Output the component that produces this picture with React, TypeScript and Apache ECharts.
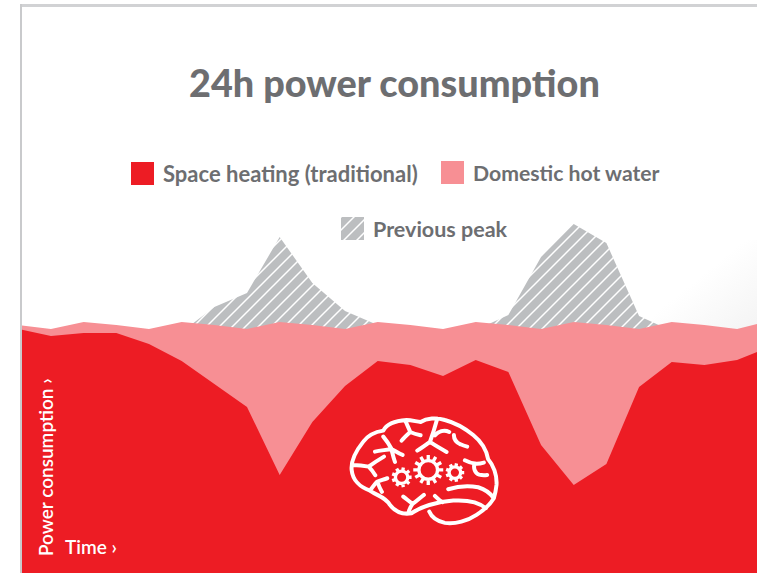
import React, { useEffect, useRef } from "react";
import * as echarts from "echarts";

const TITLE = "24h power consumption";
const HEATING = "Space heating (traditional)";
const WATER = "Domestic hot water";
const PEAK = "Previous peak";

const hours = [0, 1, 2, 3, 4, 5, 6, 7, 8, 9, 10, 11, 12, 13, 14, 15, 16, 17, 18, 19, 20, 21, 22, 23];
const heatingValues = [244, 237, 240, 240, 229, 212, 189, 166, 98, 151, 187, 212, 208, 197, 213, 201, 128, 88, 109, 186, 211, 208, 213, 226];
const waterValues = [4, 7, 11, 8, 15, 39, 59, 78, 153, 97, 57, 39, 40, 47, 38, 47, 116, 163, 139, 58, 40, 40, 31, 26];
const peakValues = [null, null, null, null, null, 241, 266, 280, 336, 290, 262, 248, null, null, 243, 258, 316, 349, 330, 257, 242, null, null, null];
const totalValues = heatingValues.map((v, i) => v + waterValues[i]);

const RED = "#ed1c24";
const PINK = "#f78f94";
const HATCH = "#bcbec0";
const TEXT = "#6d6e71";
const FONT = "Lato";

function gear(cx: number, cy: number, r: number, teeth: number): string {
  const ring = r * 0.62;
  let d = `M${cx - ring} ${cy}A${ring} ${ring} 0 1 1 ${cx + ring} ${cy}A${ring} ${ring} 0 1 1 ${cx - ring} ${cy}Z`;
  for (let i = 0; i < teeth; i++) {
    const a = (i / teeth) * Math.PI * 2;
    d += `M${cx + Math.cos(a) * ring} ${cy + Math.sin(a) * ring}L${cx + Math.cos(a) * r} ${cy + Math.sin(a) * r}`;
  }
  return d;
}

const BRAIN =
  "M215 340C185 345 165 335 150 315C135 290 115 290 90 272C60 262 38 240 35 210C32 180 50 150 70 125C85 105 110 95 130 92C140 72 170 62 200 60C215 60 230 65 242 66C260 55 290 52 315 60C345 68 375 85 400 105C425 125 440 150 445 178C460 195 472 225 470 255C468 275 465 285 462 295" +
  "M462 295C450 315 430 332 410 345C385 362 345 374 315 369C290 364 275 352 268 335" +
  "M215 340C240 322 290 305 340 302C375 300 415 305 438 325" +
  "M325 268C350 260 385 256 415 262C435 268 450 278 462 295" +
  "M285 288C292 295 298 302 308 307" +
  "M190 290C200 298 208 304 218 312C212 320 208 328 206 337M218 312C230 304 240 294 252 285" +
  "M90 272C98 262 104 252 112 245C122 242 132 238 142 235M112 245C116 256 120 266 126 276" +
  "M38 195C55 195 72 197 86 200C94 208 100 216 106 226M86 200C100 190 115 180 132 170" +
  "M105 155C120 152 138 150 155 147C165 152 175 160 188 165M155 147C148 134 140 122 130 110M155 150C158 162 160 172 165 186" +
  "M185 122C193 112 202 104 211 96C207 86 202 76 197 64M211 96C220 100 230 103 242 106" +
  "M232 152C246 144 258 135 270 126C278 104 285 82 292 56M270 126C285 136 302 146 320 156M285 106C295 95 312 88 328 96" +
  "M342 105C342 118 350 128 362 133C368 136 374 138 382 140" +
  "M375 181C385 186 395 190 405 191C415 192 425 190 432 188M404 191C400 204 405 220 418 224C426 226 434 226 442 225";

const GEARS = gear(265, 210, 45, 12) + gear(185, 232, 30, 9) + gear(345, 218, 28, 9);

function hatchTile(): HTMLCanvasElement {
  const size = 13;
  const c = document.createElement("canvas");
  c.width = size;
  c.height = size;
  const g = c.getContext("2d")!;
  g.fillStyle = HATCH;
  g.fillRect(0, 0, size, size);
  g.strokeStyle = "#ffffff";
  g.lineWidth = 1.5;
  g.beginPath();
  g.moveTo(-2, size + 2);
  g.lineTo(size + 2, -2);
  g.moveTo(-2, 2);
  g.lineTo(2, -2);
  g.moveTo(size - 2, size + 2);
  g.lineTo(size + 2, size - 2);
  g.stroke();
  return c;
}

const pairs = (values: (number | null)[]) => hours.map((h, i) => [h, values[i]]);

export default function App() {
  const ref = useRef<HTMLDivElement>(null);
  useEffect(() => {
    if (!ref.current) return;
    echarts.graphic.registerShape("brainIcon", echarts.graphic.extendPath(BRAIN, {}));
    echarts.graphic.registerShape("gearsIcon", echarts.graphic.extendPath(GEARS, {}));
    const chart = echarts.init(ref.current, undefined, { renderer: "svg" });
    const pattern: any = { image: hatchTile(), repeat: "repeat" };
    const legendText = { color: TEXT, fontFamily: FONT, fontSize: 21, fontWeight: 700, padding: [0, 0, 0, 4] };
    const legendBase = { orient: "horizontal", itemWidth: 23, itemHeight: 23, selectedMode: false, padding: 0 };
    chart.setOption({
      animation: false,
      backgroundColor: "#ffffff",
      title: {
        text: TITLE,
        left: 189,
        top: 63,
        padding: 0,
        textStyle: { color: TEXT, fontFamily: FONT, fontSize: 37.8, fontWeight: 900 },
      },
      legend: [
        { ...legendBase, left: 131, top: 162, textStyle: { ...legendText, fontSize: 22 }, data: [{ name: HEATING, icon: "rect", itemStyle: { color: RED } }] },
        { ...legendBase, left: 441, top: 161, textStyle: { ...legendText, fontSize: 21.2 }, data: [{ name: WATER, icon: "rect", itemStyle: { color: PINK } }] },
        { ...legendBase, left: 341, top: 217, textStyle: { ...legendText, fontSize: 21.5 }, data: [{ name: PEAK, icon: "rect", itemStyle: { color: pattern } }] },
      ],
      grid: { left: 22, right: 0, top: 0, bottom: 0 },
      xAxis: { type: "value", min: 0.113, max: 22.61, show: false },
      yAxis: { type: "value", min: 0, max: 573, show: false },
      series: [
        {
          name: PEAK,
          type: "line",
          z: 1,
          symbol: "none",
          lineStyle: { width: 0 },
          itemStyle: { color: HATCH },
          areaStyle: { color: pattern, opacity: 1 },
          data: pairs(peakValues),
        },
        {
          name: WATER,
          type: "line",
          z: 2,
          symbol: "none",
          lineStyle: { width: 0 },
          itemStyle: { color: PINK },
          areaStyle: { color: PINK, opacity: 1 },
          data: pairs(totalValues),
        },
        {
          name: HEATING,
          type: "line",
          z: 3,
          symbol: "none",
          lineStyle: { width: 0 },
          itemStyle: { color: RED },
          areaStyle: { color: RED, opacity: 1 },
          data: pairs(heatingValues),
        },
      ],
      graphic: [
        {
          type: "rect",
          z: -1,
          silent: true,
          shape: { x: 640, y: 240, width: 117, height: 95 },
          style: {
            fill: {
              type: "linear", x: 0, y: 0, x2: 1, y2: 1,
              colorStops: [{ offset: 0.45, color: "#ffffff" }, { offset: 1, color: "#f3f3f3" }],
            },
          },
        },
        { type: "rect", silent: true, z: 10, shape: { x: 20, y: 4, width: 737, height: 3 }, style: { fill: "#d1d2d4" } },
        { type: "rect", silent: true, z: 10, shape: { x: 20, y: 4, width: 2, height: 569 }, style: { fill: "#c9cacc" } },
        {
          type: "brainIcon", silent: true, z: 10, x: 340, y: 400, scaleX: 1 / 3, scaleY: 1 / 3,
          style: { fill: "none", stroke: "#ffffff", lineWidth: 12, lineCap: "round", lineJoin: "round" },
        },
        {
          type: "gearsIcon", silent: true, z: 10, x: 340, y: 400, scaleX: 1 / 3, scaleY: 1 / 3,
          style: { fill: "none", stroke: "#ffffff", lineWidth: 10 },
        },
        {
          type: "text", silent: true, z: 10, x: 45, y: 556, rotation: Math.PI / 2,
          style: { text: "Power consumption ›", fill: "#ffffff", fontFamily: FONT, fontSize: 19, fontWeight: 600, textAlign: "left", textVerticalAlign: "middle" },
        },
        {
          type: "text", silent: true, z: 10, x: 65, y: 546,
          style: { text: "Time ›", fill: "#ffffff", fontFamily: FONT, fontSize: 19, fontWeight: 600, textAlign: "left", textVerticalAlign: "middle" },
        },
      ],
    });
    return () => chart.dispose();
  }, []);
  return <div ref={ref} style={{ position: "absolute", left: 0, top: 0, width: 757, height: 573 }} />;
}
